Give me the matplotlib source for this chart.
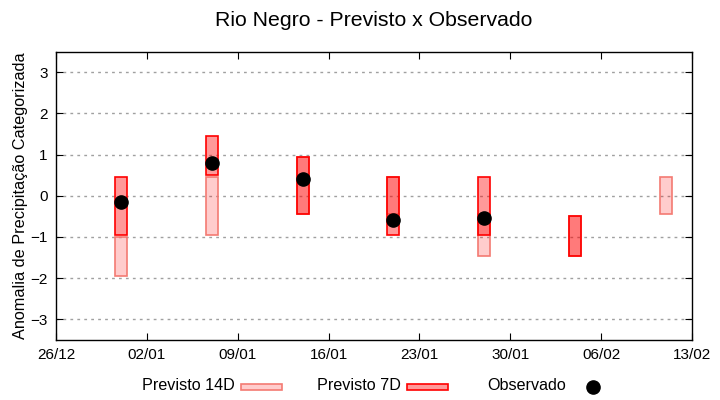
import numpy as np
import matplotlib
matplotlib.use("Agg")
import matplotlib.pyplot as plt
import matplotlib.dates as mdates
from matplotlib.patches import Rectangle
from matplotlib.lines import Line2D
from datetime import datetime

plt.rcParams["font.family"] = ["Liberation Sans", "DejaVu Sans"]

# weekly forecasts / observations
dates = ["2023-12-31", "2024-01-07", "2024-01-14", "2024-01-21",
         "2024-01-28", "2024-02-04", "2024-02-11"]
prev14_low = [-1.95, -0.95, -0.45, -0.45, -1.45, -1.45, -0.45]
prev14_high = [-1.0, 0.45, 0.95, 0.45, -0.45, -0.5, 0.45]
prev7_low = [-0.95, 0.5, -0.45, -0.95, -0.95, -1.45, np.nan]
prev7_high = [0.45, 1.45, 0.95, 0.45, 0.45, -0.5, np.nan]
observado = [-0.15, 0.8, 0.4, -0.58, -0.53, np.nan, np.nan]

x_start = "2023-12-26"
x_end = "2024-02-13"

x = mdates.date2num([datetime.strptime(d, "%Y-%m-%d") for d in dates])
p14_lo = np.array(prev14_low)
p14_hi = np.array(prev14_high)
p7_lo = np.array(prev7_low)
p7_hi = np.array(prev7_high)

W, H = 720, 400
fig = plt.figure(figsize=(7.2, 4.0), dpi=100)
ax = fig.add_axes([56 / W, 60 / H, 636 / W, 288.5 / H])

c14_face = (1, 0, 0, 0.2)
c14_edge = "#f47a72"
c7_face = (1, 0, 0, 0.4)
c7_edge = "#ff0000"

ax.bar(x, p14_hi - p14_lo, bottom=p14_lo, width=0.92,
       facecolor=c14_face, edgecolor=c14_edge, linewidth=1.2, zorder=2)
m7 = ~np.isnan(p7_lo)
ax.bar(x[m7], (p7_hi - p7_lo)[m7], bottom=p7_lo[m7], width=0.92,
       facecolor=c7_face, edgecolor=c7_edge, linewidth=1.2, zorder=3)
ax.plot(x, observado, "o", color="black", markersize=9.5, zorder=4)

ax.set_xlim(mdates.date2num(datetime.strptime(x_start, "%Y-%m-%d")),
            mdates.date2num(datetime.strptime(x_end, "%Y-%m-%d")))
ax.set_ylim(-3.5, 3.5)
ax.xaxis.set_major_formatter(mdates.DateFormatter("%d/%m"))
ax.set_xticks(np.arange(ax.get_xlim()[0], ax.get_xlim()[1] + 1, 7))
ax.set_yticks([-3, -2, -1, 0, 1, 2, 3])
ax.tick_params(direction="in", top=True, right=True, length=5,
               labelsize=11, pad=6)
ax.grid(axis="y", linestyle=(0, (2, 3)), color="#a0a0a0", linewidth=1)
ax.set_axisbelow(True)
for s in ax.spines.values():
    s.set_linewidth(1)

ax.set_ylabel("Anomalia de Precipitação Categorizada", fontsize=11.7, labelpad=2)
fig.text(374 / W, 1 - 20 / H, "Rio Negro - Previsto x Observado",
         ha="center", va="center", fontsize=15.3)

# legend drawn by hand, gnuplot style (label then sample)
ly = 1 - 386 / H
fig.text(142 / W, ly, "Previsto 14D", ha="left", va="center", fontsize=11.6)
fig.add_artist(Rectangle((241 / W, 1 - 390 / H), 41 / W, 6 / H, transform=fig.transFigure,
                         facecolor=c14_face, edgecolor=c14_edge, linewidth=1.2))
fig.text(317 / W, ly, "Previsto 7D", ha="left", va="center", fontsize=11.6)
fig.add_artist(Rectangle((407 / W, 1 - 390 / H), 41 / W, 6 / H, transform=fig.transFigure,
                         facecolor=c7_face, edgecolor=c7_edge, linewidth=1.2))
fig.text(487 / W, ly, "Observado", ha="left", va="center", fontsize=11.6)
fig.add_artist(Line2D([593 / W], [1 - 387 / H], transform=fig.transFigure,
                      marker="o", color="black", markersize=9.5, linestyle="none"))

fig.savefig("out.png", dpi=100)
